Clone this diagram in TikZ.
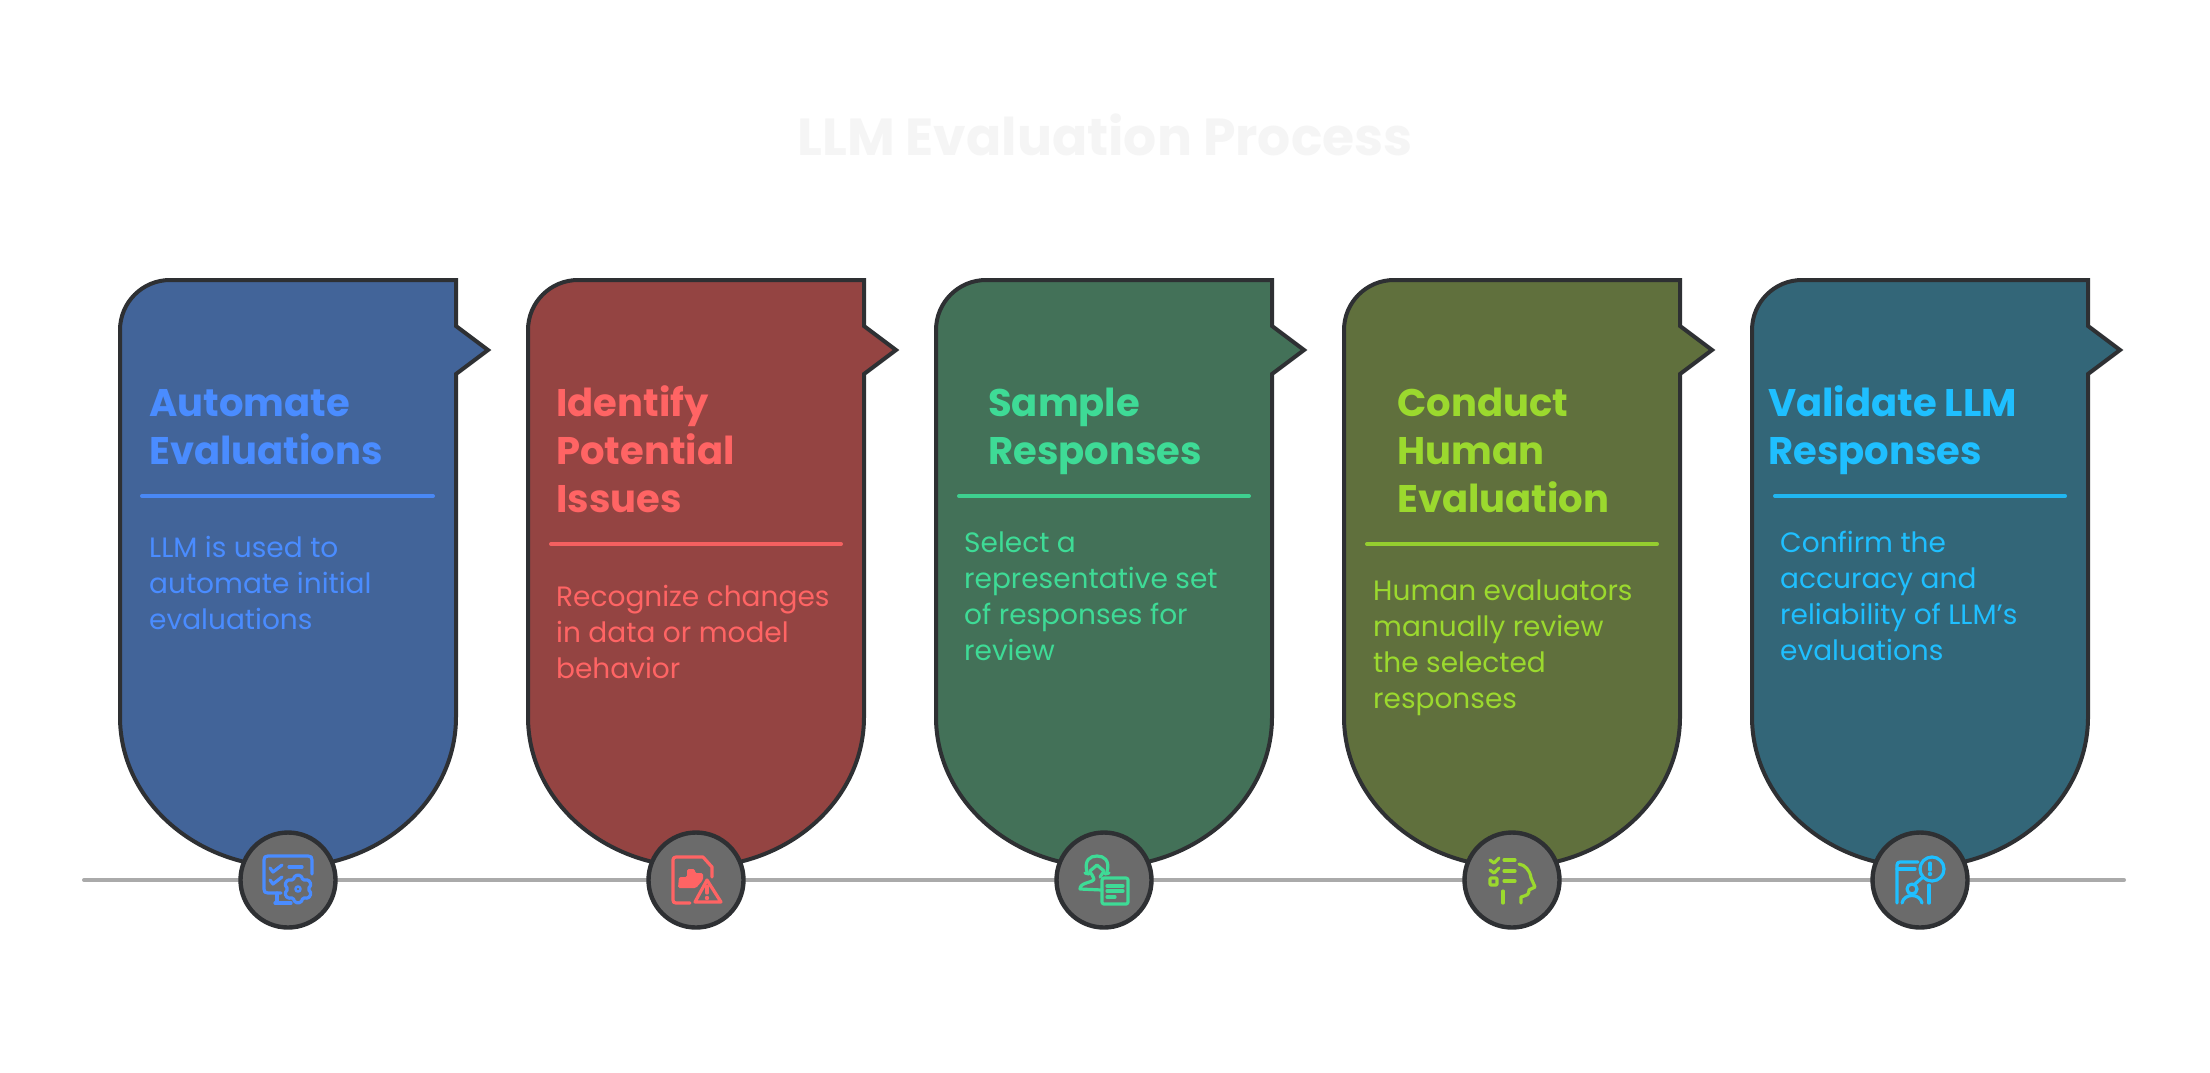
\documentclass[tikz,border=0pt]{standalone}
\usepackage{fontspec}
\setmainfont{Poppins}
\definecolor{edgec}{HTML}{2E3033}
\definecolor{discc}{HTML}{6B6B6B}
\definecolor{railc}{HTML}{AAAAAA}
\definecolor{titlec}{HTML}{F5F5F5}
\definecolor{fa}{HTML}{426499}\definecolor{ta}{HTML}{4A8CFF}
\definecolor{fb}{HTML}{944442}\definecolor{tb}{HTML}{FF6464}
\definecolor{fc}{HTML}{437158}\definecolor{tc}{HTML}{3EDB96}
\definecolor{fd}{HTML}{60703D}\definecolor{td}{HTML}{9BD92E}
\definecolor{fe}{HTML}{336678}\definecolor{te}{HTML}{1FBFFF}
\tikzset{
  cardshape/.style={draw=edgec,line width=4pt,miter limit=10},
  disc/.style={circle,draw=edgec,line width=4.4pt,fill=discc,minimum size=95pt,inner sep=0pt},
  head/.style={anchor=base west,inner sep=0pt,align=left,font=\fontsize{38.5}{48}\selectfont\bfseries},
  body/.style={anchor=base west,inner sep=0pt,align=left,font=\fontsize{28}{36}\selectfont},
  rule/.style={line width=4pt,line cap=round,opacity=.9},
  ico/.style={line width=3.2pt,line cap=round,line join=round},
}
\newcommand{\cardat}[2]{%
  \begin{scope}[xshift=#1pt]
  \fill[#2] (120,330) .. controls (120,302.4) and (142.4,280) .. (170,280) -- (456,280) -- (456,326) -- (488,350) -- (456,374) -- (456,717)
    .. controls (456,799.8) and (380.8,867) .. (288,867) .. controls (195.2,867) and (120,799.8) .. (120,717) -- cycle;
  \draw[cardshape] (120,330) .. controls (120,302.4) and (142.4,280) .. (170,280) -- (456,280) -- (456,326) -- (488,350) -- (456,374) -- (456,717)
    .. controls (456,799.8) and (380.8,867) .. (288,867) .. controls (195.2,867) and (120,799.8) .. (120,717) -- cycle;
  \end{scope}}
\begin{document}
\begin{tikzpicture}[x=1pt,y=-1pt]
\useasboundingbox (0,0) rectangle (2210,1072);
\fill[white] (0,0) rectangle (2210,1072);
\node[anchor=base,inner sep=0pt,text=titlec,font=\fontsize{52}{60}\selectfont\bfseries] (maintitle) at (1105,155) {LLM Evaluation Process};
\coordinate (railstart) at (84,880);
\coordinate (railend) at (2124,880);
\draw[railc,line width=4pt,line cap=round] (railstart) -- (railend);

\cardat{0}{fa}\cardat{408}{fb}\cardat{816}{fc}\cardat{1224}{fd}\cardat{1632}{fe}

% card 1
\node[head,text=ta] (ha) at (149,464.5) {Automate\\Evaluations};
\draw[rule,ta] (142,496) -- (433,496);
\node[body,text=ta] (ba) at (149,629) {LLM is used to\\automate initial\\evaluations};
\node[disc] (da) at (288,880) {};
% card 2
\node[head,text=tb] (hb) at (556,512.5) {Identify\\Potential\\Issues};
\draw[rule,tb] (551,544) -- (841,544);
\node[body,text=tb] (bb) at (556,678) {Recognize changes\\in data or model\\behavior};
\node[disc] (db) at (696,880) {};
% card 3
\node[head,text=tc] (hc) at (988,464.5) {Sample\\Responses};
\draw[rule,tc] (959,496) -- (1249,496);
\node[body,text=tc] (bc) at (964,660) {Select a\\representative set\\of responses for\\review};
\node[disc] (dc) at (1104,880) {};
% card 4
\node[head,text=td] (hd) at (1397,512.5) {Conduct\\Human\\Evaluation};
\draw[rule,td] (1367,544) -- (1657,544);
\node[body,text=td] (bd) at (1373,708) {Human evaluators\\manually review\\the selected\\responses};
\node[disc] (dd) at (1512,880) {};
% card 5
\node[head,text=te] (he) at (1768,464.5) {Validate LLM\\Responses};
\draw[rule,te] (1775,496) -- (2065,496);
\node[body,text=te] (be) at (1780,660) {Confirm the\\accuracy and\\reliability of LLM's\\evaluations};
\node[disc] (de) at (1920,880) {};

% icon 1
\begin{scope}[shift={(da.center)},ico,draw=ta]
\draw (24,-6) -- (24,-20) .. controls (24,-23) and (23,-24) .. (20,-24) -- (-20,-24) .. controls (-23,-24) and (-24,-23) .. (-24,-20) -- (-24,9) .. controls (-24,12) and (-23,13) .. (-20,13) -- (-7,13);
\draw (-11,13) -- (-11,23) (-13,23) -- (3,23);
\draw (-18,-12) -- (-15,-8) -- (-6,-15);
\draw (-18,0) -- (-15,4) -- (-6,-3);
\draw (1,-13) -- (14,-13);
\begin{scope}[shift={(10,9)}]
\draw[rounded corners=1.5pt] (78:14) -- (102:14) -- (120:10) -- (138:14) -- (162:14) -- (180:10) -- (198:14) -- (222:14) -- (240:10) -- (258:14) -- (282:14) -- (300:10) -- (318:14) -- (342:14) -- (0:10) -- (18:14) -- (42:14) -- (60:10) -- cycle;
\draw[line width=2.4pt] (0,0) circle (2.6);
\end{scope}
\end{scope}
% icon 2
\begin{scope}[shift={(db.center)},ico,draw=tb]
\draw (16,-3) -- (16,-13) -- (7,-23) -- (-20,-23) .. controls (-22,-23) and (-23,-22) .. (-23,-20) -- (-23,20) .. controls (-23,22) and (-22,23) .. (-20,23) -- (-6,23);
\fill[tb,rounded corners=1.5pt] (-18,8) -- (-17,-3) -- (-9,-3) -- (-9,-11) -- (-1,-11) -- (-1,-7) -- (7,-7) -- (7,0) -- (0,8) -- cycle;
\draw[discc,line width=3pt,fill=discc] (11,-3) -- (-3,23) -- (27,23) -- cycle;
\draw (11,0) -- (-1,22) -- (25,22) -- cycle;
\draw (11,6) -- (11,13);
\fill[tb] (11,18) circle (2.2);
\end{scope}
% icon 3
\begin{scope}[shift={(dc.center)},ico,draw=tc]
\draw (-17,-8) .. controls (-20,-20) and (-14,-24) .. (-7,-24) .. controls (0,-24) and (6,-20) .. (3,-8);
\draw (-19,-7) -- (-15,-6) (5,-7) -- (1,-6);
\draw (-14,-9) -- (-7,-15) -- (0,-9) -- (-4,-3);
\draw (-14,-9) .. controls (-13,-5) and (-10,-4) .. (-10,-1) .. controls (-11,3) and (-24,2) .. (-24,9) -- (-2,10);
\draw[rounded corners=2pt] (-2,-2) rectangle (24,24);
\draw (3,6) -- (19,6) (3,11) -- (19,11) (3,17) -- (11,17);
\end{scope}
% icon 4
\begin{scope}[shift={(dd.center)},ico,draw=td]
\draw (-22,-20) -- (-18,-17) -- (-13,-22);
\draw (-22,-10) -- (-18,-7) -- (-13,-12);
\draw[rounded corners=1pt] (-22,-2) rectangle (-15,5);
\draw (-8,-20) -- (3,-20) (-8,-9) -- (3,-9) (-8,1) -- (3,1);
\draw (-9,11) -- (-9,23);
\draw (7,-16) .. controls (13,-15) and (18,-10) .. (19,-2) -- (23,7) -- (17,10) .. controls (17,15) and (15,15) .. (9,17) -- (9,23);
\end{scope}
% icon 5
\begin{scope}[shift={(de.center)},ico,draw=te]
\draw (-23,23) -- (-23,-15) .. controls (-23,-17) and (-22,-18) .. (-20,-18) -- (-2,-18);
\draw (-23,-11) -- (-5,-11);
\draw (9,5) -- (9,23);
\draw (12,-11) circle (12);
\draw (3,-3) -- (-5,4);
\draw (10,-17) -- (10,-10);
\fill[te] (10,-6) circle (2.2);
\draw (-8,9) circle (5);
\draw (-18,23) .. controls (-16,13) and (0,13) .. (2,23);
\end{scope}
\end{tikzpicture}
\end{document}
